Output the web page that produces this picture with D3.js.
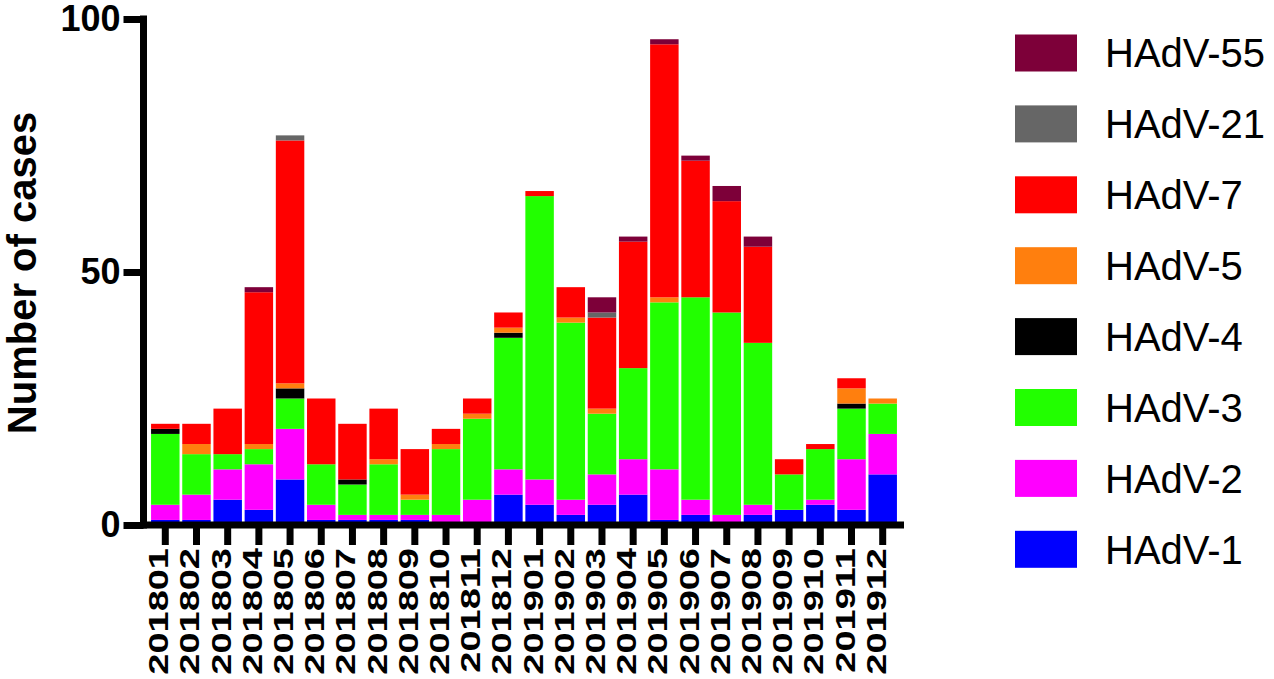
<!DOCTYPE html>
<html>
<head>
<meta charset="utf-8">
<script src="https://cdn.jsdelivr.net/npm/d3@7/dist/d3.min.js"></script>
<style>
  html, body { margin: 0; padding: 0; background: #ffffff; }
  svg { display: block; }
  text { font-family: "Liberation Sans", Arial, Helvetica, sans-serif; }
</style>
</head>
<body>
<svg id="chart" width="1274" height="679"></svg>
<script>
// ---- Data ----
const months = ["201801","201802","201803","201804","201805","201806","201807","201808","201809","201810","201811","201812",
                "201901","201902","201903","201904","201905","201906","201907","201908","201909","201910","201911","201912"];
const hadv1  = [1,1,5,3,9,1,1,1,1,0,0,6,4,2,4,6,1,2,0,2,3,4,3,10];
const hadv2  = [3,5,6,9,10,3,1,1,1,2,5,5,5,3,6,7,10,3,2,2,0,1,10,8];
const hadv3  = [14,8,3,3,6,8,6,10,3,13,16,26,56,35,12,18,33,40,40,32,7,10,10,6];
const hadv4  = [1,0,0,0,2,0,1,0,0,0,0,1,0,0,0,0,0,0,0,0,0,0,1,0];
const hadv5  = [0,2,0,1,1,0,0,1,1,1,1,1,0,1,1,0,1,0,0,0,0,0,3,1];
const hadv7  = [1,4,9,30,48,13,11,10,9,3,3,3,1,6,18,25,50,27,22,19,3,1,2,0];
const hadv21 = [0,0,0,0,1,0,0,0,0,0,0,0,0,0,1,0,0,0,0,0,0,0,0,0];
const hadv55 = [0,0,0,1,0,0,0,0,0,0,0,0,0,0,3,1,1,1,3,2,0,0,0,0];
const seriesNames = ["HAdV-1","HAdV-2","HAdV-3","HAdV-4","HAdV-5","HAdV-7","HAdV-21","HAdV-55"];
const seriesValues = [hadv1, hadv2, hadv3, hadv4, hadv5, hadv7, hadv21, hadv55];
const seriesColors = ["#0000ff","#ff00ff","#22ff00","#000000","#ff7f0e","#ff0000","#666666","#7d0039"];
const yTicks = [0, 50, 100];
const yTitle = "Number of cases";

// ---- Build table ----
const table = months.map((m, i) => {
  const row = { month: m };
  seriesNames.forEach((s, k) => { row[s] = seriesValues[k][i]; });
  return row;
});
const stacked = d3.stack().keys(seriesNames)(table);
const color = d3.scaleOrdinal().domain(seriesNames).range(seriesColors);

const svg = d3.select("#chart");

const x = d3.scaleBand().domain(months).range([149.7, 898.3]).paddingInner(0.087).paddingOuter(0.0435);
const y = d3.scaleLinear().domain([0, 100]).range([525, 19]);

// ---- Bars ----
const layers = svg.append("g").selectAll("g").data(stacked).join("g")
  .attr("fill", d => color(d.key));
layers.selectAll("rect").data(d => d).join("rect")
  .attr("x", d => x(d.data.month))
  .attr("width", x.bandwidth())
  .attr("y", d => y(d[1]))
  .attr("height", d => Math.max(0, y(d[0]) - y(d[1])));

// ---- Y axis ----
const yAxis = svg.append("g").attr("transform", "translate(143.5,0)")
  .call(d3.axisLeft(y).tickValues(yTicks).tickSize(20).tickSizeOuter(0).tickPadding(3));
yAxis.select(".domain").remove();
yAxis.selectAll(".tick line").attr("stroke", "#000").attr("stroke-width", 7);
yAxis.selectAll(".tick text").attr("font-size", 36).attr("font-weight", "bold").attr("fill", "#000");
svg.append("line").attr("x1", 143.5).attr("x2", 143.5).attr("y1", y(100) - 3.5).attr("y2", y(0) + 3.5)
  .attr("stroke", "#000").attr("stroke-width", 7);

// ---- X axis ----
const xAxis = svg.append("g").attr("transform", `translate(0,${y(0)})`)
  .call(d3.axisBottom(x).tickSize(20).tickSizeOuter(0).tickFormat(""));
xAxis.select(".domain").remove();
xAxis.selectAll(".tick line").attr("stroke", "#000").attr("stroke-width", 7);
svg.append("line").attr("x1", 140).attr("x2", 904).attr("y1", y(0)).attr("y2", y(0))
  .attr("stroke", "#000").attr("stroke-width", 7);

svg.append("g").selectAll("text").data(months).join("text")
  .attr("transform", d => `translate(${x(d) + x.bandwidth() / 2 + 3},548) rotate(-90) scale(1,0.74)`)
  .attr("text-anchor", "end")
  .attr("font-size", 38).attr("font-weight", "bold").attr("fill", "#000")
  .text(d => d);

// ---- Y title ----
svg.append("text")
  .attr("transform", "translate(36,273) rotate(-90)")
  .attr("text-anchor", "middle")
  .attr("font-size", 40).attr("font-weight", "bold").attr("fill", "#000")
  .text(yTitle);

// ---- Legend ----
const legendOrder = seriesNames.slice().reverse();
const lg = svg.append("g").selectAll("g").data(legendOrder).join("g")
  .attr("transform", (d, i) => `translate(1015,${53 + i * 70.9})`);
lg.append("rect").attr("x", 0).attr("y", -18.5).attr("width", 62).attr("height", 37).attr("fill", d => color(d));
lg.append("text").attr("x", 90).attr("y", 0).attr("dy", "0.36em")
  .attr("font-size", 40).attr("fill", "#000").text(d => d);
</script>
</body>
</html>
